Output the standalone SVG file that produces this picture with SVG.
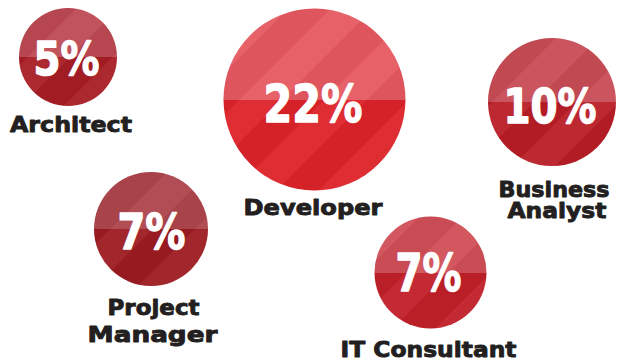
<svg xmlns="http://www.w3.org/2000/svg" width="625" height="361" viewBox="0 0 625 361">
<style>
.pct{font-family:"DejaVu Sans","Liberation Sans",sans-serif;font-weight:bold;fill:#fff;stroke:#fff;stroke-width:1.4;stroke-linejoin:round;text-anchor:middle}
.lbl{font-family:"DejaVu Sans","Liberation Sans",sans-serif;font-weight:bold;fill:#231f20;stroke:#231f20;stroke-width:0.9;stroke-linejoin:round;text-anchor:middle;font-size:22px}
</style>
<defs>
<pattern id="stripes" width="60" height="60" patternUnits="userSpaceOnUse" patternTransform="rotate(45)">
<rect x="0" y="0" width="30" height="60" fill="#fff" fill-opacity="0.05"/>
<rect x="30" y="0" width="30" height="60" fill="#000" fill-opacity="0.035"/>
</pattern>
<clipPath id="c1"><circle cx="68" cy="57" r="49"/></clipPath>
<clipPath id="c2"><circle cx="314.5" cy="99.5" r="91"/></clipPath>
<clipPath id="c3"><circle cx="552" cy="102" r="64"/></clipPath>
<clipPath id="c4"><circle cx="151" cy="229" r="57"/></clipPath>
<clipPath id="c5"><circle cx="430.5" cy="272.5" r="56"/></clipPath>
</defs>
<rect width="625" height="361" fill="#fff"/>
<g id="architect">
<g clip-path="url(#c1)">
<rect x="19" y="8" width="98" height="49" fill="#bd4a53"/>
<rect x="19" y="57" width="98" height="50" fill="#a81d24"/>
<rect x="19" y="8" width="98" height="99" fill="url(#stripes)"/>
</g>
<text class="pct" x="66.5" y="75" font-size="47" textLength="66" lengthAdjust="spacingAndGlyphs">5%</text>
<text class="lbl" x="71" y="132" textLength="122" lengthAdjust="spacingAndGlyphs">Architect</text>
</g>
<g id="developer">
<g clip-path="url(#c2)">
<rect x="223" y="8" width="183" height="92" fill="#e65860"/>
<rect x="223" y="100" width="183" height="92" fill="#dd2229"/>
<rect x="223" y="8" width="183" height="184" fill="url(#stripes)"/>
</g>
<text class="pct" x="313" y="122" font-size="52" textLength="99" lengthAdjust="spacingAndGlyphs">22%</text>
<text class="lbl" x="313" y="215" font-size="23" textLength="139" lengthAdjust="spacingAndGlyphs">Developer</text>
</g>
<g id="business-analyst">
<g clip-path="url(#c3)">
<rect x="488" y="38" width="129" height="64" fill="#c84c55"/>
<rect x="488" y="102" width="129" height="65" fill="#b91e26"/>
<rect x="488" y="38" width="129" height="129" fill="url(#stripes)"/>
</g>
<text class="pct" x="550" y="123" font-size="48" textLength="93" lengthAdjust="spacingAndGlyphs">10%</text>
<text class="lbl" x="554" y="196.5" font-size="21" textLength="111" lengthAdjust="spacingAndGlyphs">Business</text>
<text class="lbl" x="557" y="218" font-size="21" textLength="99" lengthAdjust="spacingAndGlyphs">Analyst</text>
</g>
<g id="project-manager">
<g clip-path="url(#c4)">
<rect x="94" y="172" width="114" height="57" fill="#ad454c"/>
<rect x="94" y="229" width="114" height="57" fill="#9c1b21"/>
<rect x="94" y="172" width="114" height="114" fill="url(#stripes)"/>
</g>
<text class="pct" x="151.5" y="249" font-size="49" textLength="68" lengthAdjust="spacingAndGlyphs">7%</text>
<text class="lbl" x="153.5" y="315" textLength="92" lengthAdjust="spacingAndGlyphs">Project</text>
<text class="lbl" x="152.5" y="342" textLength="130" lengthAdjust="spacingAndGlyphs">Manager</text>
</g>
<g id="it-consultant">
<g clip-path="url(#c5)">
<rect x="374" y="216" width="113" height="57" fill="#d04e56"/>
<rect x="374" y="273" width="113" height="56" fill="#c11f28"/>
<rect x="374" y="216" width="113" height="113" fill="url(#stripes)"/>
</g>
<text class="pct" x="428.5" y="291" font-size="51" textLength="66" lengthAdjust="spacingAndGlyphs">7%</text>
<text class="lbl" x="428.5" y="357" textLength="176" lengthAdjust="spacingAndGlyphs">IT Consultant</text>
</g>
<g id="connectors"/>
</svg>
